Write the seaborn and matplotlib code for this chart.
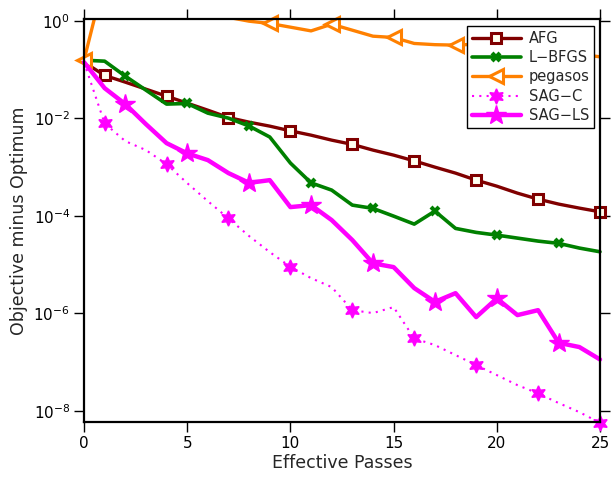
import matplotlib
matplotlib.use("Agg")
import matplotlib.pyplot as plt
import seaborn as sns
import pandas as pd
from matplotlib.lines import Line2D
from matplotlib.ticker import FixedLocator, NullLocator

passes = list(range(26))

afg = [0.142, 0.0759, 0.0553, 0.0397, 0.0285, 0.0205, 0.0147, 0.0104, 8.35e-3, 6.92e-3,
       5.54e-3, 4.52e-3, 3.57e-3, 2.92e-3, 2.23e-3, 1.76e-3, 1.34e-3, 9.98e-4, 7.52e-4, 5.40e-4,
       4.06e-4, 2.92e-4, 2.20e-4, 1.74e-4, 1.44e-4, 1.21e-4]
lbfgs = [0.156, 0.149, 0.0734, 0.0379, 0.0196, 0.0202, 0.0128, 0.0101, 6.95e-3, 4.14e-3,
         1.21e-3, 4.75e-4, 3.37e-4, 1.66e-4, 1.42e-4, 9.86e-5, 6.76e-5, 1.25e-4, 5.52e-5, 4.57e-5,
         4.02e-5, 3.49e-5, 3.03e-5, 2.72e-5, 2.18e-5, 1.83e-5]
pegasos = [0.156, 7.7, 5.0, 3.5, 2.5, 2.0, 1.5, 1.18, 0.985, 0.885,
           0.743, 0.623, 0.855, 0.644, 0.485, 0.456, 0.344, 0.325, 0.318, 0.333,
           0.303, 0.275, 0.251, 0.228, 0.207, 0.183]
sag_c = [0.142, 7.86e-3, 3.41e-3, 2.23e-3, 1.15e-3, 4.69e-4, 2.00e-4, 8.85e-5, 3.84e-5, 1.80e-5,
         9.0e-6, 5.27e-6, 3.45e-6, 1.16e-6, 1.01e-6, 1.34e-6, 3.05e-7, 2.23e-7, 1.39e-7, 8.65e-8,
         5.40e-8, 3.36e-8, 2.27e-8, 1.44e-8, 9.38e-9, 5.66e-9]
sag_ls = [0.142, 0.0416, 0.0196, 7.60e-3, 3.10e-3, 1.91e-3, 1.39e-3, 7.52e-4, 4.75e-4, 5.40e-4,
          1.51e-4, 1.66e-4, 8.17e-5, 3.18e-5, 1.06e-5, 8.87e-6, 3.29e-6, 1.72e-6, 2.59e-6, 8.36e-7,
          2.02e-6, 9.19e-7, 1.16e-6, 2.48e-7, 2.03e-7, 1.13e-7]

labels = ["AFG", "L\u2212BFGS", "pegasos", "SAG\u2212C", "SAG\u2212LS"]
x_ticks = [0, 5, 10, 15, 20, 25]
y_ticks = [1e-8, 1e-6, 1e-4, 1e-2, 1e0]

sns.set_style("ticks")
plt.rcParams["font.family"] = ["DejaVu Sans"]

fig = plt.figure(figsize=(6.11, 4.79), dpi=100)
ax = fig.add_axes([0.1375, 0.118, 0.8445, 0.843])

c_afg = "#800000"
c_lb = "#008000"
c_peg = "#ff8000"
c_mag = "#ff00ff"

styles = {
    "AFG": dict(color=c_afg, lw=2.4, marker="s", ms=7, mew=2.2, mfc="#fffff0", mec=c_afg, ls="-"),
    "LBFGS": dict(color=c_lb, lw=2.6, marker="x", ms=6, mew=3, mec=c_lb, ls="-"),
    "PEG": dict(color=c_peg, lw=2.4, marker="<", ms=10, mew=2.2, mfc="white", mec=c_peg, ls="-"),
    "SAGC": dict(color=c_mag, lw=1.5, marker=(6, 1, 0), ms=11, mew=1, mfc=c_mag, mec=c_mag, ls=(0, (1, 2.5))),
    "SAGLS": dict(color=c_mag, lw=3.2, marker="*", ms=15, mew=1, mfc=c_mag, mec=c_mag, ls="-"),
}

def draw(y, st, every, clip=False):
    sns.lineplot(x=passes, y=y, ax=ax, estimator=None, sort=False,
                 markevery=every, clip_on=clip, **st)

draw(afg, styles["AFG"], slice(1, None, 3))
draw(lbfgs, styles["LBFGS"], slice(2, None, 3))
# pegasos: clipped line, unclipped markers that are within range
sns.lineplot(x=passes, y=pegasos, ax=ax, estimator=None, sort=False, clip_on=True,
             color=c_peg, lw=2.4, ls="-")
peg_idx = [i for i in range(0, len(passes), 3) if pegasos[i] <= 1.0]
peg_mk = dict(styles["PEG"]); peg_mk["ls"] = "none"
sns.lineplot(x=passes, y=pegasos, ax=ax, estimator=None, sort=False,
             markevery=peg_idx, clip_on=False, **peg_mk)
draw(sag_c, styles["SAGC"], slice(1, None, 3))
draw(sag_ls, styles["SAGLS"], slice(2, None, 3))

ax.set_yscale("log")
ax.set_xlim(0, 25)
ax.set_ylim(10 ** -8.24, 10 ** 0.045)
ax.xaxis.set_major_locator(FixedLocator(x_ticks))
ax.yaxis.set_major_locator(FixedLocator(y_ticks))
ax.yaxis.set_minor_locator(NullLocator())

for s in ax.spines.values():
    s.set_visible(True)
    s.set_linewidth(1.6)
    s.set_color("black")
ax.tick_params(axis="both", which="major", direction="out", length=7, width=1,
               top=True, right=True, labelsize=11, colors="black", pad=3)

ax.set_xlabel("Effective Passes", fontsize=12.5, labelpad=2)
ax.set_ylabel("Objective minus Optimum", fontsize=12.5, labelpad=4)

handles = []
for key, lab in zip(["AFG", "LBFGS", "PEG", "SAGC", "SAGLS"], labels):
    st = styles[key]
    handles.append(Line2D([], [], label=lab, **st))
leg = ax.legend(handles=handles, loc="upper right", bbox_to_anchor=(0.988, 0.981),
                borderaxespad=0, fontsize=10.5, handlelength=3.4, labelspacing=0.3,
                handletextpad=0.5, borderpad=0.3, fancybox=False, framealpha=1,
                edgecolor="black")
leg.get_frame().set_linewidth(1.0)
leg.set_zorder(10)

fig.savefig("out.png", dpi=100)
